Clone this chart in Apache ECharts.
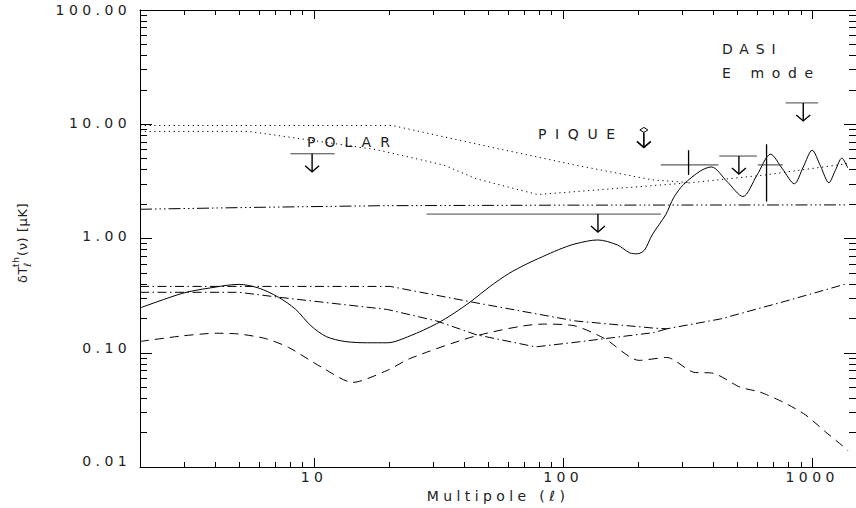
<!DOCTYPE html>
<html><head><meta charset="utf-8">
<script src="https://cdn.jsdelivr.net/npm/echarts@6/dist/echarts.min.js"></script>
<style>html,body{margin:0;padding:0;background:#fff}#wrap{position:relative;width:856px;height:508px}#c,#t{position:absolute;left:0;top:0;width:856px;height:508px}#t{pointer-events:none}</style>
</head><body><div id="wrap"><div id="c"></div><div id="t"></div></div>
<script>
// ---------- data ----------
const X_MIN = 2, X_MAX = 1500, Y_MIN = 0.01, Y_MAX = 100;

const xLabelValues = [10, 100, 1000];
const xLabelTexts  = ['10', '100', '1000'];
const yLabelValues = [0.01, 0.1, 1, 10, 100];
const yLabelTexts  = ['0.01', '0.10', '1.00', '10.00', '100.00'];

// solid: E-mode theory spectrum
const solidL = [2, 2.97, 3.79, 4.99, 6.0, 7.19, 8.41, 9.73, 11.2, 13.3, 16.4, 19.7, 24.3, 31.0, 36.5, 42.8, 51, 60.5, 71, 82.6, 96, 111.6, 137.7, 165, 185, 198.5, 212, 227.6, 258.6, 278, 304.8, 356, 393.7, 456, 527, 600, 681, 760, 848, 921, 1000, 1082, 1167, 1239, 1316, 1390];
const solidV = [0.228, 0.308, 0.342, 0.369, 0.342, 0.284, 0.223, 0.158, 0.127, 0.115, 0.112, 0.112, 0.129, 0.165, 0.205, 0.262, 0.355, 0.460, 0.556, 0.649, 0.750, 0.843, 0.914, 0.826, 0.703, 0.689, 0.741, 1.01, 1.54, 2.17, 2.84, 3.74, 4.06, 3.0, 2.22, 3.42, 5.27, 3.9, 2.88, 4.05, 5.71, 4.1, 2.94, 3.78, 4.86, 3.98];

// dotted (two foreground curves)
const dotAL = [2, 20.6, 53.7, 111.6, 227.6, 325];
const dotAV = [9.46, 9.46, 5.95, 4.22, 3.12, 2.94];
const dotBL = [2, 5.47, 9.2, 18.0, 33.1, 44.8, 78.9, 111.6, 227.6, 325, 650, 1352, 1390];
const dotBV = [8.38, 8.38, 7.13, 5.75, 4.22, 3.19, 2.31, 2.45, 2.77, 2.94, 3.45, 4.31, 4.35];

// dash-dot-dot-dot
const d3L = [2, 6, 19, 100, 1390];
const d3V = [1.71, 1.78, 1.84, 1.86, 1.87];

// dash-dot (two curves)
const ddAL = [2, 20.2, 44.8, 111.6, 232, 261, 428, 782, 1390];
const ddAV = [0.354, 0.354, 0.253, 0.175, 0.151, 0.149, 0.182, 0.262, 0.376];
const ddBL = [2, 4.99, 7.19, 19.7, 31.0, 44.8, 77.4, 111.6, 232, 261];
const ddBV = [0.314, 0.314, 0.284, 0.221, 0.175, 0.132, 0.103, 0.113, 0.138, 0.149];

// dashed
const dashL = [2, 2.97, 4.05, 4.99, 6.39, 7.89, 10.7, 14.3, 19.7, 24.3, 44.8, 82.6, 111.6, 146.8, 202, 261, 334, 401, 513, 616, 761, 938, 1127, 1377, 1390];
const dashV = [0.115, 0.129, 0.136, 0.134, 0.122, 0.102, 0.0682, 0.0499, 0.0638, 0.0813, 0.129, 0.164, 0.158, 0.122, 0.0782, 0.083, 0.0614, 0.0601, 0.0453, 0.0410, 0.0335, 0.0258, 0.0183, 0.0127, 0.0124];

// upper limits: [l_min, l_max, l_arrow, value]
const upperLimits = [
  [8.04, 12.1, 9.82, 5.31],    // POLAR
  [28.3, 247, 138, 1.55],
  [424, 600, 508, 5.07],
  [782, 1057, 921, 15.0]
];
// PIQUE: [l, value]
const piqueLimit = [[211, 8.64]];
// detections: [l_min, l_max, l_center, value, low, high]
const detections = [
  [247, 420, 319, 4.23, 3.45, 5.71],
  [605, 761, 656, 4.23, 2.0, 6.45]
];

// ---------- build ----------
const FONT = 'DejaVu Sans';
const GRID = { left: 140, top: 10, width: 724.5, height: 457, show: false };
const pairs = (L, V) => L.map((l, i) => [l, V[i]]);
const lineSeries = (L, V, dash, smooth) => ({
  type: 'line', data: pairs(L, V), showSymbol: false, smooth: smooth || false,
  lineStyle: { color: '#000', width: 1, type: dash }, silent: true, z: 3
});
function labelFor(values, texts, v) {
  for (let i = 0; i < values.length; i++) {
    if (Math.abs(Math.log10(v) - Math.log10(values[i])) < 1e-6) return texts[i];
  }
  return '';
}
function ln(x1, y1, x2, y2, w, c) {
  return { type: 'line', shape: { x1: x1, y1: y1, x2: x2, y2: y2 }, style: { stroke: c || '#000', lineWidth: w || 1 } };
}
function frameAxis(kind, pos) {
  const isX = kind === 'x';
  return {
    type: 'log', logBase: 10, min: isX ? X_MIN : Y_MIN, max: isX ? X_MAX : Y_MAX, position: pos,
    axisLine: { show: true, lineStyle: { color: '#000', width: 1 } },
    axisTick: { show: true, inside: true, length: isX ? 9 : 12, lineStyle: { color: '#000', width: 1 } },
    minorTick: { show: true, splitNumber: 9, length: isX ? 5 : 7, lineStyle: { color: '#000', width: 1 } },
    splitLine: { show: false }, minorSplitLine: { show: false },
    axisLabel: { show: false }
  };
}

// main chart: curves, marks, labels, texts
const option = {
  animation: false,
  backgroundColor: '#fff',
  grid: GRID,
  xAxis: {
    type: 'log', logBase: 10, min: X_MIN, max: X_MAX,
    axisLine: { show: false }, axisTick: { show: false }, splitLine: { show: false },
    axisLabel: { margin: 9, fontFamily: FONT, fontSize: 14, color: '#222',
      showMinLabel: false, showMaxLabel: false,
      formatter: v => labelFor(xLabelValues, xLabelTexts, v) },
    name: 'Multipole (ℓ)', nameLocation: 'middle', nameGap: 23,
    nameTextStyle: { fontFamily: FONT, fontSize: 14, color: '#222' }
  },
  yAxis: {
    type: 'log', logBase: 10, min: Y_MIN, max: Y_MAX,
    axisLine: { show: false }, axisTick: { show: false }, splitLine: { show: false },
    axisLabel: { margin: 9, fontFamily: FONT, fontSize: 14, color: '#222',
      formatter: v => labelFor(yLabelValues, yLabelTexts, v) }
  },
  graphic: [
    { type: 'group', x: 22, y: 240, rotation: Math.PI / 2, children: [
      { type: 'text', x: -43, y: 0, style: { text: 'δT', font: '13px "DejaVu Sans"', fill: '#222', verticalAlign: 'middle', align: 'left' } },
      { type: 'text', x: -27, y: -6, style: { text: 'th', font: '9px "DejaVu Sans"', fill: '#222', verticalAlign: 'middle', align: 'left' } },
      { type: 'text', x: -27, y: 5, style: { text: 'ℓ', font: 'italic 10px "DejaVu Sans"', fill: '#222', verticalAlign: 'middle', align: 'left' } },
      { type: 'text', x: -16, y: 0, style: { text: '(ν) [μK]', font: '13px "DejaVu Sans"', fill: '#222', verticalAlign: 'middle', align: 'left' } }
    ]},
    { type: 'text', x: 722, y: 49, style: { text: 'DASI', font: '14px "DejaVu Sans"', fill: '#222', verticalAlign: 'middle' } },
    { type: 'text', x: 722, y: 73, style: { text: 'E mode', font: '14px "DejaVu Sans"', fill: '#222', verticalAlign: 'middle' } },
    { type: 'text', x: 538, y: 134, style: { text: 'PIQUE', font: '14px "DejaVu Sans"', fill: '#222', verticalAlign: 'middle' } },
    { type: 'text', x: 307, y: 142, style: { text: 'POLAR', font: '14px "DejaVu Sans"', fill: '#222', verticalAlign: 'middle' } }
  ],
  series: [
    lineSeries(dotAL, dotAV, [1.2, 3.6]),
    lineSeries(dotBL, dotBV, [1.2, 3.6]),
    lineSeries(d3L, d3V, [12, 3, 1.5, 3, 1.5, 3, 1.5, 3]),
    lineSeries(ddAL, ddAV, [9, 3.5, 1.5, 3.5]),
    lineSeries(ddBL, ddBV, [9, 3.5, 1.5, 3.5]),
    lineSeries(dashL, dashV, [9, 6], 0.25),
    lineSeries(solidL, solidV, 'solid', 0.3),
    { // upper limits: bar + down arrow
      type: 'custom', silent: true, z: 6,
      encode: { x: [0, 1, 2], y: 3 },
      data: upperLimits,
      renderItem: function (params, api) {
        const v = api.value(3);
        const a = api.coord([api.value(0), v]), b = api.coord([api.value(1), v]), c = api.coord([api.value(2), v]);
        const tip = c[1] + 18;
        return { type: 'group', children: [
          ln(a[0], a[1], b[0], b[1], 1, '#444'),
          ln(c[0], c[1], c[0], tip, 1.4),
          { type: 'polyline', shape: { points: [[c[0] - 7, tip - 6], [c[0], tip], [c[0] + 7, tip - 6]] }, style: { stroke: '#000', lineWidth: 1.4, fill: null } }
        ]};
      }
    },
    { // PIQUE symbol
      type: 'custom', silent: true, z: 6,
      encode: { x: 0, y: 1 },
      data: piqueLimit,
      renderItem: function (params, api) {
        const c = api.coord([api.value(0), api.value(1)]);
        const tip = c[1] + 17.5;
        return { type: 'group', children: [
          { type: 'polygon', shape: { points: [[c[0], c[1] - 2.5], [c[0] + 4, c[1]], [c[0], c[1] + 2.5], [c[0] - 4, c[1]]] }, style: { stroke: '#000', lineWidth: 1, fill: '#fff' } },
          ln(c[0], c[1] + 2.5, c[0], tip, 1.6),
          { type: 'polyline', shape: { points: [[c[0] - 7, tip - 6], [c[0], tip], [c[0] + 7, tip - 6]] }, style: { stroke: '#000', lineWidth: 1.6, fill: null } }
        ]};
      }
    },
    { // detections with error bars
      type: 'custom', silent: true, z: 6,
      encode: { x: [0, 1, 2], y: [3, 4, 5] },
      data: detections,
      renderItem: function (params, api) {
        const v = api.value(3);
        const a = api.coord([api.value(0), v]), b = api.coord([api.value(1), v]);
        const lo = api.coord([api.value(2), api.value(4)]), hi = api.coord([api.value(2), api.value(5)]);
        return { type: 'group', children: [
          ln(a[0], a[1], b[0], b[1], 1, '#333'),
          ln(lo[0], lo[1], hi[0], hi[1], 1.3)
        ]};
      }
    }
  ]
};

const chart = echarts.init(document.getElementById('c'), null, { renderer: 'svg' });
chart.setOption(option);

// overlay chart: the axis frame with major and minor ticks on all four sides
const frame = echarts.init(document.getElementById('t'), null, { renderer: 'svg' });
frame.setOption({
  animation: false,
  grid: GRID,
  xAxis: [frameAxis('x', 'bottom'), frameAxis('x', 'top')],
  yAxis: [frameAxis('y', 'left'), frameAxis('y', 'right')],
  series: [{ type: 'scatter', data: [], silent: true }]
});

const Y_TITLE_PARTS = ['δT', 'th', 'ℓ', '(ν) [μK]'];
const WIDE_TEXTS = { 'POLAR': '9px', 'PIQUE': '8.6px', 'DASI': '6.8px', 'E mode': '7.6px' };
function spaceText() {
  document.querySelectorAll('#c svg text').forEach(el => {
    const s = el.textContent;
    if (Y_TITLE_PARTS.includes(s)) el.style.letterSpacing = '0.6px';
    else if (WIDE_TEXTS[s]) el.style.letterSpacing = WIDE_TEXTS[s];
    else el.style.letterSpacing = '4.4px';
  });
}
spaceText();
chart.on('finished', spaceText);
setTimeout(spaceText, 50);
</script>
</body></html>
